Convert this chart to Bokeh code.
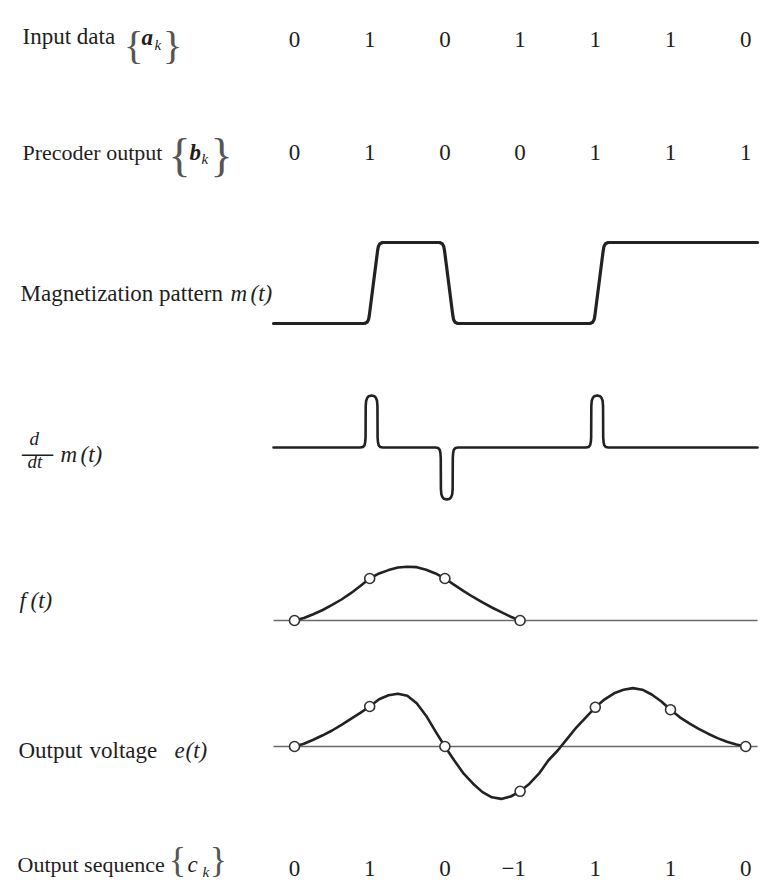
import numpy as np
from bokeh.plotting import figure
from bokeh.models import Range1d
from bokeh.core.properties import value
from bokeh.embed import file_html
from bokeh.resources import INLINE

# ---------------- data ----------------
bit_index = [0, 1, 2, 3, 4, 5, 6]
input_data = [0, 1, 0, 1, 1, 1, 0]          # {a_k}
precoder_output = [0, 1, 0, 0, 1, 1, 1]     # {b_k}  -> magnetization levels
output_sequence = [0, 1, 0, -1, 1, 1, 0]    # {c_k}

# f(t): read at eighth-of-a-bit steps, t = 0 .. 3
f_values = [0, 0.06, 0.15, 0.25, 0.37, 0.50, 0.65, 0.82, 1.00,
            1.12, 1.20, 1.26, 1.28, 1.27, 1.21, 1.12, 1.00,
            0.85, 0.70, 0.56, 0.43, 0.31, 0.20, 0.09, 0]

# e(t): read at eighth-of-a-bit steps, t = 0 .. 6
e_values = [0, 0.07, 0.17, 0.28, 0.40, 0.54, 0.69, 0.84, 1.00,
            1.18, 1.28, 1.32, 1.27, 1.08, 0.77, 0.38, 0,
            -0.35, -0.68, -0.93, -1.14, -1.27, -1.31, -1.25, -1.12,
            -0.93, -0.68, -0.35, -0.10, 0.19, 0.48, 0.73, 0.98,
            1.18, 1.33, 1.42, 1.46, 1.42, 1.30, 1.13, 0.92,
            0.73, 0.58, 0.44, 0.32, 0.21, 0.12, 0.05, 0]

# shape of one read-back pulse of dm/dt (offset in bits, relative height)
pulse_offsets = [-0.150, -0.115, -0.095, -0.085, -0.080, -0.078, -0.072, -0.058, -0.040, 0,
                 0.040, 0.058, 0.072, 0.078, 0.080, 0.085, 0.095, 0.115, 0.150]
pulse_shape = [0, 0.01, 0.04, 0.10, 0.20, 0.80, 0.90, 0.955, 0.985, 1,
               0.985, 0.955, 0.90, 0.80, 0.20, 0.10, 0.04, 0.01, 0]

# shape of one magnetization transition (offset in bits, fraction of step)
edge_offsets = [-0.12, -0.085, -0.065, -0.055, 0.055, 0.065, 0.085, 0.12]
edge_shape = [0, 0.015, 0.05, 0.10, 0.90, 0.95, 0.985, 1]

# ---------------- layout ----------------
W, H = 763, 880
PX_L, PX_R, PX_T, PX_B = 0, 763, 0, 880
X0_PX, COL_PX = 294.0, 75.2          # page x of bit 0, pixels per bit
T_START = (273 - X0_PX) / COL_PX
T_END = (757 - X0_PX) / COL_PX
EDGE_DELAY, PULSE_DELAY = 0.05, 0.025
SERIF = "Liberation Serif"
TEXT = "#1e1e1e"
INK = "#222222"
SIZE = 23


def band(zero_px, unit_px):
    start = (zero_px - PX_B) / unit_px
    return Range1d(start, start + (PX_B - PX_T) / unit_px)


p = figure(width=W, height=H, toolbar_location=None, output_backend="svg",
           x_range=Range1d((PX_L - X0_PX) / COL_PX, (PX_R - X0_PX) / COL_PX),
           y_range=Range1d(PX_B, PX_T),
           x_axis_location=None, y_axis_location=None, min_border=0,
           outline_line_color=None, background_fill_color="white",
           border_fill_color="white")
p.grid.visible = False
p.extra_x_ranges = {"px": Range1d(PX_L, PX_R)}
p.extra_y_ranges = {"m": band(323, 81), "dm": band(447, 52),
                    "f": band(620, 42), "e": band(746, 40)}


def label(x, y, text, size=SIZE, style="normal", align="left", color=TEXT):
    p.text(x=[x], y=[y], text=[text], x_range_name="px",
           text_font=value(SERIF), text_font_size=f"{size}px",
           text_font_style=style, text_color=color,
           text_baseline="alphabetic", text_align=align)


def brace(x, y, ch, size):
    label(x, y, ch, size=size, align="center", color="#555555")


# ---------------- texts on the left ----------------
label(22, 36, "Input data")
brace(133, 44.6, "{", 41)
label(141, 37, "a", style="bold italic")
label(154, 44, "k", size=15, style="italic")
brace(172, 44.6, "}", 41)

label(22, 152, "Precoder output", size=22)
brace(179, 154.6, "{", 46)
label(189, 152, "b", style="bold italic")
label(201, 158, "k", size=15, style="italic")
brace(221, 154.6, "}", 46)

label(20, 293, "Magnetization pattern")
label(230, 293, "m", style="italic")
label(250, 293, "(t)", style="italic")

label(29, 438, "d", size=19, style="italic")
label(37, 452, "\u2014", size=31, align="center")
label(27, 461, "dt", size=19, style="italic")
label(60, 454, "m", style="italic")
label(80, 454, "(t)", style="italic")

label(19, 600, "f", style="italic")
label(30, 600, "(t)", style="italic")

label(18, 750, "Output")
label(89, 750, "voltage")
label(174, 750, "e", style="italic")
label(185, 750, "(t)", style="italic")

label(17, 864, "Output sequence", size=22)
brace(177, 859, "{", 36)
label(187, 864, "c", style="italic")
label(202, 871, "k", size=15, style="italic")
brace(218, 859, "}", 36)

# ---------------- digit rows ----------------
def digit_row(vals, y):
    txt = [("\u2212" + str(-v)) if v < 0 else str(v) for v in vals]
    p.text(x=bit_index, y=[y] * len(vals), text=txt,
           text_font=value(SERIF), text_font_size=f"{SIZE}px",
           text_color=TEXT, text_baseline="alphabetic",
           text_align="right", x_offset=SIZE * 0.25)


digit_row(input_data, 39)
digit_row(precoder_output, 152)
digit_row(output_sequence, 868)

# ---------------- magnetization m(t) and dm/dt ----------------
mx, my = [T_START], [precoder_output[0]]
dx, dy = [T_START], [0.0]
for k in range(1, len(precoder_output)):
    d = precoder_output[k] - precoder_output[k - 1]
    if d != 0:
        for off, s in zip(edge_offsets, edge_shape):
            mx.append(k + EDGE_DELAY + off)
            my.append(precoder_output[k - 1] + s * d)
        for off, s in zip(pulse_offsets, pulse_shape):
            dx.append(k + PULSE_DELAY + off)
            dy.append(d * s)
mx.append(T_END); my.append(precoder_output[-1])
dx.append(T_END); dy.append(0.0)

p.line(mx, my, y_range_name="m", line_color=INK, line_width=3.2,
       line_join="round", line_cap="round")
p.line(dx, dy, y_range_name="dm", line_color=INK, line_width=2.6,
       line_join="round", line_cap="round")

# ---------------- f(t) and e(t) ----------------
f_t = np.arange(len(f_values)) / 8.0
e_t = np.arange(len(e_values)) / 8.0

for rng in ("f", "e"):
    p.line([T_START, T_END], [0, 0], y_range_name=rng,
           line_color="#6a6a6a", line_width=1.4)

p.line(f_t, f_values, y_range_name="f", line_color=INK, line_width=2.6,
       line_join="round")
p.line(e_t, e_values, y_range_name="e", line_color=INK, line_width=2.6,
       line_join="round")

p.scatter(f_t[::8], f_values[::8], y_range_name="f", marker="circle", size=10,
          fill_color="white", line_color="#333333", line_width=1.6)
p.scatter(e_t[::8], e_values[::8], y_range_name="e", marker="circle", size=10,
          fill_color="white", line_color="#333333", line_width=1.6)

open("out.html", "w").write(file_html(p, INLINE))
